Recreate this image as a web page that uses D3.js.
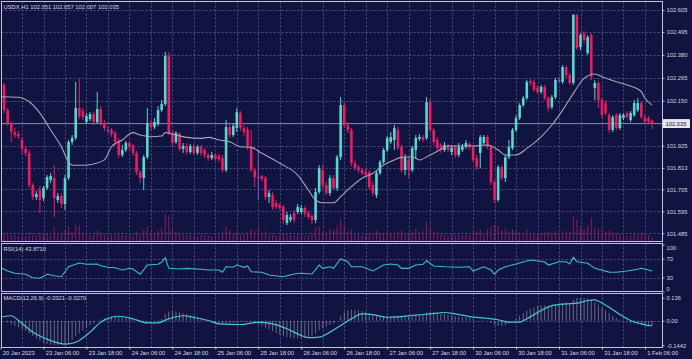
<!DOCTYPE html>
<html><head><meta charset="utf-8">
<script src="https://cdn.jsdelivr.net/npm/d3@7"></script>
<style>html,body{margin:0;padding:0;background:#111340;overflow:hidden}</style>
</head><body><svg id="c" width="692" height="359"></svg>
<script>
// ---------------- data ----------------
const header = "USDX,H1  102.051 102.057 102.007 102.035";
const rsiTitle = "RSI(14) 43.8710";
const macdTitle = "MACD(12,26,9) -0.0321 -0.0270";
const lastPrice = 102.035;
const lastPriceLabel = "102.035";

const timeLabels = ["20 Jan 2023","23 Jan 06:00","23 Jan 18:00","24 Jan 06:00","24 Jan 18:00","25 Jan 06:00","25 Jan 18:00","26 Jan 06:00","26 Jan 18:00","27 Jan 06:00","27 Jan 18:00","30 Jan 06:00","30 Jan 18:00","31 Jan 06:00","31 Jan 18:00","1 Feb 06:00"];
const timeLabelBars = [0,12,24,36,48,60,72,84,96,108,120,132,144,156,168,180];

const priceTicks = [102.605,102.495,102.380,102.265,102.150,102.038,101.925,101.813,101.705,101.595,101.485];
const priceTickLabels = ["102.605","102.495","102.380","102.265","102.150","102.038","101.925","101.813","101.705","101.595","101.485"];
const rsiTicks = [100,70,30,0];
const rsiLevels = [70,30];
const macdTicks = [0.136,0.0,-0.1442];
const macdTickLabels = ["0.136","0.00","-0.1442"];

const open = [102.214,102.229,102.103,102.038,101.993,101.983,101.953,101.908,101.888,101.727,
101.667,101.702,101.662,101.712,101.752,101.762,101.652,101.672,101.632,101.762,
101.943,101.963,102.113,102.098,102.043,102.058,102.083,102.043,102.108,102.038,
102.003,102.003,101.988,101.948,101.878,101.903,101.938,101.923,101.888,101.792,
101.762,101.867,102.038,102.018,102.033,102.103,102.133,102.374,101.988,101.943,
101.983,101.908,101.923,101.893,101.923,101.888,101.918,101.903,101.878,101.862,
101.878,101.872,101.862,101.802,102.018,101.978,102.013,102.088,102.013,102.003,
101.918,101.802,101.767,101.772,101.762,101.667,101.677,101.637,101.627,101.617,
101.536,101.552,101.587,101.592,101.592,101.612,101.587,101.572,101.552,101.692,
101.802,101.727,101.687,101.762,101.712,101.867,102.128,102.028,102.003,101.837,
101.817,101.802,101.792,101.792,101.727,101.677,101.787,101.842,101.903,101.943,
101.953,102.003,101.918,101.802,101.852,101.802,101.903,101.958,101.968,101.963,
102.143,102.003,101.953,101.928,101.903,101.923,101.893,101.918,101.878,101.903,
101.918,101.933,101.918,101.862,101.888,101.938,101.968,101.918,101.742,101.652,
101.817,101.762,101.867,101.913,102.003,102.063,102.128,102.163,102.249,102.244,
102.214,102.194,102.219,102.163,102.118,102.168,102.254,102.244,102.319,102.279,
102.239,102.580,102.419,102.489,102.389,102.479,102.214,102.239,102.153,102.138,
102.078,102.003,102.078,102.013,102.063,102.088,102.053,102.078,102.103,102.138,
102.068,102.063,102.051];
const high = [102.254,102.239,102.113,102.048,102.013,101.998,101.968,101.923,101.903,101.737,
101.697,101.722,101.722,101.777,101.787,101.827,101.687,101.687,101.777,101.953,
101.978,102.244,102.259,102.113,102.088,102.093,102.093,102.194,102.123,102.053,
102.018,102.013,101.998,101.963,101.928,101.948,101.948,101.933,101.898,101.802,
101.878,102.113,102.053,102.063,102.123,102.153,102.394,102.394,102.003,101.998,
101.993,101.938,101.938,101.933,101.933,101.928,101.928,101.913,101.888,101.893,
101.888,101.883,101.878,102.053,102.033,102.038,102.113,102.098,102.028,102.018,
102.003,101.812,101.903,101.777,101.772,101.702,101.692,101.652,101.637,101.627,
101.592,101.582,101.602,101.632,101.627,101.622,101.597,101.582,101.712,101.827,
101.827,101.742,101.777,101.777,101.878,102.168,102.143,102.043,102.013,101.852,
101.827,101.812,101.807,101.802,101.742,101.802,101.852,101.913,101.973,101.993,
102.028,102.018,101.928,101.883,101.867,101.923,101.978,101.983,101.978,102.168,
102.158,102.013,101.968,101.938,101.943,101.933,101.928,101.928,101.938,101.933,
101.953,101.943,101.928,101.878,101.978,101.978,101.978,101.928,101.752,101.827,
101.827,101.878,101.953,102.013,102.078,102.138,102.173,102.254,102.259,102.254,
102.224,102.229,102.229,102.173,102.179,102.264,102.269,102.329,102.329,102.289,
102.585,102.585,102.489,102.499,102.479,102.489,102.254,102.249,102.163,102.153,
102.088,102.078,102.088,102.088,102.088,102.098,102.098,102.153,102.163,102.148,
102.078,102.073,102.057];
const low = [102.194,102.088,102.023,101.943,101.963,101.958,101.878,101.872,101.712,101.652,
101.652,101.587,101.647,101.702,101.737,101.567,101.637,101.612,101.602,101.752,
101.928,101.953,102.058,102.053,102.033,102.048,102.028,102.033,102.023,101.998,
101.988,101.968,101.928,101.862,101.867,101.893,101.903,101.872,101.777,101.737,
101.702,101.857,102.003,102.008,102.023,102.093,102.123,101.978,101.923,101.933,
101.898,101.888,101.878,101.883,101.878,101.878,101.872,101.862,101.847,101.852,
101.847,101.842,101.792,101.792,101.963,101.968,101.993,101.998,101.973,101.903,
101.792,101.717,101.652,101.747,101.652,101.637,101.602,101.607,101.602,101.531,
101.526,101.541,101.536,101.582,101.582,101.567,101.557,101.531,101.536,101.682,
101.712,101.677,101.672,101.702,101.697,101.852,102.013,101.988,101.822,101.797,
101.787,101.777,101.767,101.702,101.672,101.662,101.777,101.832,101.893,101.933,
101.903,101.903,101.792,101.777,101.762,101.792,101.862,101.948,101.943,101.953,
101.993,101.928,101.903,101.888,101.893,101.893,101.878,101.862,101.867,101.893,
101.908,101.903,101.842,101.802,101.812,101.928,101.908,101.727,101.637,101.642,
101.752,101.742,101.857,101.903,101.993,102.053,102.118,102.153,102.224,102.194,
102.184,102.184,102.153,102.098,102.108,102.158,102.239,102.234,102.264,102.229,
102.229,102.404,102.404,102.439,102.379,102.254,102.153,102.113,102.063,102.078,
101.988,101.993,102.003,102.003,102.053,102.058,102.043,102.068,102.093,102.058,
102.033,102.033,102.007];
const close = [102.229,102.103,102.038,101.993,101.978,101.973,101.908,101.888,101.727,101.667,
101.682,101.652,101.712,101.767,101.772,101.662,101.672,101.632,101.762,101.943,
101.963,102.113,102.073,102.068,102.073,102.083,102.043,102.108,102.038,102.013,
102.003,101.983,101.943,101.878,101.903,101.938,101.918,101.888,101.792,101.762,
101.867,102.038,102.018,102.043,102.103,102.133,102.374,101.988,101.938,101.988,
101.908,101.923,101.893,101.923,101.888,101.918,101.888,101.878,101.862,101.878,
101.857,101.857,101.802,102.018,101.978,102.023,102.093,102.013,101.993,101.918,
101.802,101.767,101.767,101.757,101.667,101.687,101.617,101.617,101.612,101.552,
101.577,101.567,101.552,101.617,101.612,101.582,101.567,101.552,101.692,101.812,
101.727,101.687,101.762,101.712,101.867,102.128,102.028,102.003,101.837,101.812,
101.802,101.787,101.777,101.717,101.687,101.787,101.842,101.903,101.963,101.968,
102.013,101.913,101.802,101.867,101.802,101.913,101.963,101.968,101.953,102.143,
102.003,101.943,101.913,101.903,101.928,101.903,101.913,101.878,101.918,101.918,
101.938,101.918,101.852,101.817,101.968,101.968,101.918,101.742,101.652,101.817,
101.762,101.867,101.918,102.003,102.063,102.128,102.163,102.244,102.239,102.204,
102.194,102.219,102.163,102.113,102.168,102.254,102.254,102.319,102.279,102.239,
102.580,102.414,102.479,102.454,102.469,102.269,102.239,102.153,102.078,102.088,
102.003,102.068,102.013,102.078,102.078,102.068,102.088,102.138,102.138,102.068,
102.043,102.043,102.035];
const volume = [700,900,800,700,600,500,600,500,900,800,
600,900,700,800,600,1400,700,800,1200,1500,
900,1700,1600,900,700,600,700,1100,900,700,
500,600,700,900,700,600,500,600,1000,800,
1200,1500,900,800,1100,1300,2800,2600,1400,1000,
900,700,600,700,600,500,600,700,600,500,
600,700,1000,1500,1100,800,1000,700,800,900,
1300,1100,1400,800,1000,700,800,600,600,900,
800,700,600,700,600,600,700,800,1400,1500,
1000,900,1300,1200,1600,2300,1700,1000,1200,800,
700,600,600,900,800,1100,900,800,1000,800,
900,1000,1100,800,900,1000,1300,900,1100,2000,
1600,1000,900,800,700,600,700,600,700,600,
700,600,1100,1000,1200,800,1200,1500,1700,1600,
1100,1300,1000,1200,1000,900,800,1200,900,800,
700,800,900,1000,900,1000,700,1100,900,1000,
2500,2200,1500,1300,1600,2400,1400,1300,1200,1000,
1100,900,800,700,600,500,600,800,700,900,
800,700,400];

const maBars = [0,5,8,11,14,17,19,20,23,26,29,31,34,37,39,42,45,46,49,52,56,58,61,64,67,70,73,78,83,86,88,90,93,95,98,101,104,107,110,112,115,117,120,123,125,128,132,136,139,141,144,147,151,154,157,160,163,166,168,172,175,179,180,182];
const maValues = [102.170,102.167,102.145,102.088,102.003,101.919,101.844,101.826,101.826,101.833,101.853,101.919,101.953,101.990,101.978,101.969,101.973,101.990,101.978,101.966,101.961,101.966,101.953,101.944,101.919,101.916,101.886,101.836,101.777,101.702,101.652,101.638,101.638,101.669,101.719,101.761,101.786,101.828,101.853,101.866,101.869,101.853,101.878,101.906,101.923,101.923,101.923,101.928,101.903,101.878,101.878,101.911,101.969,102.028,102.103,102.187,102.262,102.284,102.270,102.245,102.229,102.195,102.162,102.128];

const rsiBars = [0,2,4,7,9,11,13,15,17,19,22,24,27,28,30,32,34,36,37,39,41,44,45,46,47,50,52,56,58,61,62,63,65,66,68,69,70,73,75,79,82,84,87,89,90,92,93,95,97,98,101,104,107,109,111,112,114,116,118,119,121,124,128,131,132,135,137,138,139,141,144,148,152,153,156,158,159,160,161,164,166,167,170,172,175,178,179,181,182];
const rsiValues = [50.9,43.8,38.9,36.8,29.5,28.3,36.8,33.8,31.7,52.9,60.9,58.1,58.7,55.1,51.7,50.9,45.9,49.5,48.1,36.8,56.5,58.1,62.3,72.1,49.5,48.1,49.5,47.4,45.9,45.9,41.1,52.9,51.7,56.5,51.7,54.5,42.3,41.1,35.3,31.7,37.5,38.9,37.5,56.5,49.5,52.9,49.5,69.3,63.6,52.9,52.9,43.8,56.5,58.7,56.5,49.5,49.5,56.5,58.1,65.7,54.5,52.9,51.7,52.9,43.8,52.9,45.9,36.8,45.9,52.9,58.7,67.2,62.9,56.5,63.6,63.6,58.7,72.9,63.6,60.2,49.5,47.4,41.5,41.1,43.8,47.4,49.5,45.9,43.87];

const macdMain = [0.005,0.000,-0.010,-0.020,-0.030,-0.040,-0.050,-0.060,-0.075,-0.090,
-0.105,-0.118,-0.130,-0.137,-0.141,-0.1442,-0.143,-0.142,-0.140,-0.128,
-0.112,-0.092,-0.075,-0.058,-0.042,-0.028,-0.015,0.000,0.008,0.015,
0.020,0.025,0.028,0.026,0.022,0.018,0.014,0.010,0.004,-0.004,
-0.008,-0.006,-0.003,-0.002,0.005,0.012,0.040,0.055,0.058,0.055,
0.050,0.045,0.040,0.033,0.027,0.020,0.014,0.008,0.002,-0.004,
-0.010,-0.016,-0.022,-0.018,-0.015,-0.012,-0.010,-0.006,-0.004,-0.003,
-0.008,-0.015,-0.022,-0.030,-0.040,-0.050,-0.062,-0.072,-0.082,-0.092,
-0.098,-0.102,-0.105,-0.106,-0.104,-0.100,-0.096,-0.092,-0.076,-0.056,
-0.044,-0.034,-0.024,-0.016,0.000,0.030,0.050,0.062,0.066,0.065,
0.062,0.058,0.052,0.045,0.036,0.030,0.027,0.026,0.027,0.028,
0.030,0.030,0.026,0.024,0.022,0.024,0.028,0.032,0.034,0.048,
0.052,0.050,0.046,0.042,0.040,0.036,0.032,0.028,0.025,0.022,
0.020,0.016,0.008,0.000,0.002,0.002,-0.002,-0.012,-0.025,-0.030,
-0.030,-0.025,-0.015,-0.002,0.012,0.030,0.045,0.060,0.070,0.078,
0.085,0.090,0.092,0.090,0.090,0.095,0.100,0.106,0.108,0.105,
0.125,0.136,0.136,0.134,0.132,0.125,0.110,0.095,0.078,0.062,
0.045,0.030,0.018,0.006,-0.004,-0.010,-0.015,-0.018,-0.020,-0.024,
-0.028,-0.030,-0.0321];

const signalBars = [0,3,5,9,14,18,21,25,28,31,33,37,41,44,47,51,54,58,61,67,72,76,80,84,86,89,92,95,98,101,104,108,112,116,120,124,127,131,136,139,142,145,147,151,154,158,161,164,166,167,170,173,176,179,181,182];
const signalValues = [0.021,0.030,0.002,-0.067,-0.117,-0.138,-0.127,-0.067,-0.008,0.021,0.027,0.012,-0.012,-0.012,0.012,0.030,0.021,0.002,-0.018,-0.022,-0.008,-0.018,-0.047,-0.087,-0.100,-0.097,-0.067,-0.028,0.012,0.041,0.037,0.021,0.025,0.033,0.041,0.049,0.041,0.025,0.015,0.006,-0.008,-0.008,0.012,0.061,0.090,0.100,0.104,0.120,0.124,0.116,0.080,0.037,0.002,-0.018,-0.028,-0.027];

// ---------------- drawing ----------------
const C = {bg:"#111340", frame:"#c4c4d2", grid:"#4d5184", text:"#d8d8e4", up:"#5ad6cf", down:"#ee1a62",
  doji:"#8a55c8", ma:"#a6a6b8", vol:"#8e1c5f", rsi:"#3fbcc4", sig:"#46c8c8", hist:"#9494b0", bid:"#8a8aa8"};
const FONT = "'Liberation Sans', Arial, sans-serif";
const FS = 5.8;
const L = 1.5, R = 662.5;
const P = {main:[1.5,241.5], rsi:[243.5,291.5], macd:[293.5,347.5]};

const svg = d3.select("#c");
svg.append("rect").attr("width",692).attr("height",359).attr("fill",C.bg);
const defs = svg.append("defs");
Object.entries(P).forEach(([k,[t,b]])=>{
  defs.append("clipPath").attr("id","clip-"+k).append("rect").attr("x",L).attr("y",t).attr("width",R-L).attr("height",b-t);
});

const n = close.length;
const x = d3.scaleLinear().domain([0,n-1]).range([0.54,0.54+3.58*(n-1)]);
const y = d3.scaleLinear().domain([101.4439,102.6475]).range([241.5,1.5]);
const yVol = d3.scaleLinear().domain([0,3000]).range([241.5,211.5]);
const yRsi = d3.scaleLinear().domain([0,100]).range([291.6,244.6]);
const yMacd = d3.scaleLinear().domain([-0.158,0.1615]).range([347.5,293.5]);
const gridBars = d3.range(6,n,6);

function vgrid(g,t,b){
  g.selectAll(null).data(gridBars).join("line")
    .attr("x1",d=>Math.round(x(d))+0.5).attr("x2",d=>Math.round(x(d))+0.5)
    .attr("y1",t).attr("y2",b).attr("stroke",C.grid).attr("stroke-dasharray","2,2").attr("stroke-width",1);
}
function hgrid(g,vals,sc){
  g.selectAll(null).data(vals).join("line")
    .attr("x1",L).attr("x2",R).attr("y1",d=>Math.round(sc(d))+0.5).attr("y2",d=>Math.round(sc(d))+0.5)
    .attr("stroke",C.grid).attr("stroke-dasharray","2,2").attr("stroke-width",1);
}

// ---- main panel ----
const gm = svg.append("g").attr("clip-path","url(#clip-main)");
hgrid(gm, priceTicks, y);
vgrid(gm, P.main[0], P.main[1]);
gm.selectAll(null).data(volume).join("line")
  .attr("x1",(d,i)=>x(i)).attr("x2",(d,i)=>x(i)).attr("y1",yVol(0)).attr("y2",d=>yVol(d))
  .attr("stroke",C.vol).attr("stroke-width",1);
gm.append("line").attr("x1",L).attr("x2",R).attr("y1",y(lastPrice)).attr("y2",y(lastPrice))
  .attr("stroke",C.bid).attr("stroke-width",1);
const idx = d3.range(n);
const col = i => close[i]>open[i]?C.up:(close[i]<open[i]?C.down:C.doji);
gm.selectAll(null).data(idx).join("line")
  .attr("x1",i=>x(i)).attr("x2",i=>x(i)).attr("y1",i=>y(high[i])).attr("y2",i=>y(low[i]))
  .attr("stroke",col).attr("stroke-width",1);
gm.selectAll(null).data(idx).join("rect")
  .attr("x",i=>x(i)-1.3).attr("width",2.6)
  .attr("y",i=>y(Math.max(open[i],close[i])))
  .attr("height",i=>Math.max(0.9, Math.abs(y(open[i])-y(close[i]))))
  .attr("fill",col);
gm.append("path").datum(d3.zip(maBars,maValues))
  .attr("d",d3.line().x(d=>x(d[0])).y(d=>y(d[1])).curve(d3.curveMonotoneX))
  .attr("fill","none").attr("stroke",C.ma).attr("stroke-width",1.1);

// ---- RSI panel ----
const gr = svg.append("g").attr("clip-path","url(#clip-rsi)");
hgrid(gr, rsiLevels, yRsi);
vgrid(gr, P.rsi[0], P.rsi[1]);
gr.append("path").datum(d3.zip(rsiBars,rsiValues))
  .attr("d",d3.line().x(d=>x(d[0])).y(d=>yRsi(d[1])))
  .attr("fill","none").attr("stroke",C.rsi).attr("stroke-width",1.1);

// ---- MACD panel ----
const gd = svg.append("g").attr("clip-path","url(#clip-macd)");
hgrid(gd, [0], yMacd);
vgrid(gd, P.macd[0], P.macd[1]);
gd.selectAll(null).data(macdMain).join("line")
  .attr("x1",(d,i)=>x(i)).attr("x2",(d,i)=>x(i)).attr("y1",yMacd(0)).attr("y2",d=>yMacd(d))
  .attr("stroke",C.hist).attr("stroke-width",0.8).attr("opacity",0.85);
gd.append("path").datum(d3.zip(signalBars,signalValues))
  .attr("d",d3.line().x(d=>x(d[0])).y(d=>yMacd(d[1])).curve(d3.curveMonotoneX))
  .attr("fill","none").attr("stroke",C.sig).attr("stroke-width",1.2);

// ---- frames ----
Object.values(P).forEach(([t,b])=>{
  svg.append("rect").attr("x",L).attr("y",t).attr("width",R-L).attr("height",b-t)
    .attr("fill","none").attr("stroke",C.frame).attr("stroke-width",1);
});

// ---- axes ----
function styleAxis(g){
  g.select(".domain").remove();
  g.selectAll("line").attr("stroke",C.frame);
  g.selectAll("text").attr("fill",C.text).style("font-family",FONT).style("font-size",FS+"px");
}
const axP = svg.append("g").attr("transform",`translate(${R},0)`)
  .call(d3.axisRight(y).tickValues(priceTicks).tickFormat((d,i)=>priceTickLabels[i]).tickSize(2).tickPadding(2));
styleAxis(axP);
const axR = svg.append("g").attr("transform",`translate(${R},0)`)
  .call(d3.axisRight(yRsi).tickValues(rsiTicks).tickFormat(d=>String(d)).tickSize(2).tickPadding(2));
styleAxis(axR);
axR.selectAll(".tick").filter(d=>d===100).select("text").attr("dy","0.85em");
axR.selectAll(".tick").filter(d=>d===0).select("text").attr("dy","-0.15em");
const axM = svg.append("g").attr("transform",`translate(${R},0)`)
  .call(d3.axisRight(yMacd).tickValues(macdTicks).tickFormat((d,i)=>macdTickLabels[i]).tickSize(2).tickPadding(2));
styleAxis(axM);
const axT = svg.append("g").attr("transform",`translate(0,${P.macd[1]})`)
  .call(d3.axisBottom(x).tickValues(timeLabelBars).tickFormat((d,i)=>timeLabels[i]).tickSize(2).tickPadding(1));
styleAxis(axT);
axT.selectAll("text").attr("text-anchor","start").attr("dx","0.3em");

// last price box
const by = y(lastPrice);
svg.append("rect").attr("x",R+1).attr("y",by-4).attr("width",26).attr("height",8)
  .attr("fill","#e6e6ee").attr("stroke","#ffffff").attr("stroke-width",0.8);
svg.append("text").attr("x",R+3).attr("y",by).attr("dy","0.35em").text(lastPriceLabel)
  .attr("fill",C.bg).style("font-family",FONT).style("font-size",FS+"px");

// titles
[[header,8.5],[rsiTitle,250.5],[macdTitle,300]].forEach(([t,yy])=>{
  svg.append("text").attr("x",3.5).attr("y",yy).text(t).attr("fill",C.text)
    .style("font-family",FONT).style("font-size",FS+"px");
});
</script></body></html>
